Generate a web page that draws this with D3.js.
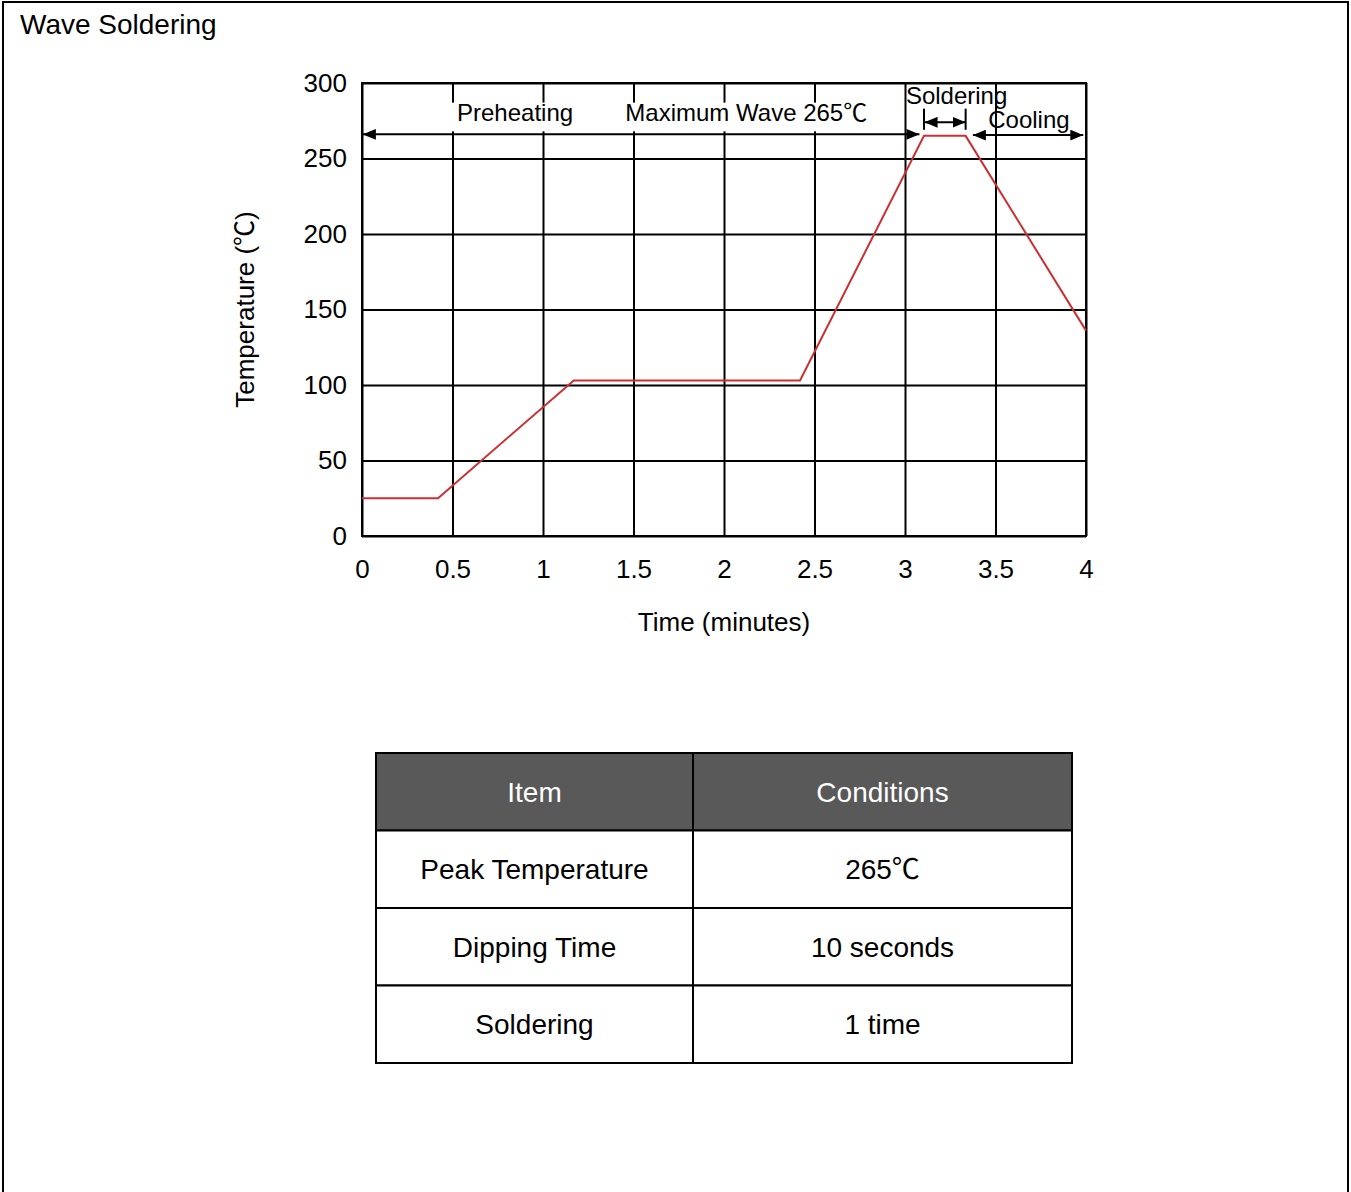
<!DOCTYPE html>
<html>
<head>
<meta charset="utf-8">
<script src="https://cdn.jsdelivr.net/npm/d3@7"></script>
<style>
  body { margin: 0; background: #fff; }
  text { font-family: "Liberation Sans", Arial, "Noto Sans CJK SC", sans-serif; fill: #000; }
</style>
</head>
<body>
<script>
// temperature profile (minutes, deg C)
const profileTime = [0, 0.42, 1.17, 2.42, 3.105, 3.335, 4];
const profileTemp = [25, 25, 103, 103, 265, 265, 136];

const xTicks = [0, 0.5, 1, 1.5, 2, 2.5, 3, 3.5, 4];
const yTicks = [0, 50, 100, 150, 200, 250, 300];

// phase annotations
const phaseNames = ["Preheating", "Maximum Wave 265℃", "Soldering", "Cooling"];
const phaseStart = [0.525, 1.455, 3.005, 3.46];
const phaseTemp = [275, 275, 286, 270];

const tableHeader = ["Item", "Conditions"];
const tableItems = ["Peak Temperature", "Dipping Time", "Soldering"];
const tableConditions = ["265℃", "10 seconds", "1 time"];

const W = 1351, H = 1192;
const svg = d3.select("body").append("svg").attr("width", W).attr("height", H);

// page frame
svg.append("rect")
  .attr("x", 3).attr("y", 2).attr("width", 1345).attr("height", H + 10)
  .attr("fill", "none").attr("stroke", "#000").attr("stroke-width", 2);

svg.append("text").attr("x", 20).attr("y", 34)
  .attr("font-size", 28).text("Wave Soldering");

const x = d3.scaleLinear().domain([0, 4]).range([362, 1086]);
const y = d3.scaleLinear().domain([0, 300]).range([536, 83]);

// grid + axes
const xAxis = svg.append("g")
  .attr("transform", `translate(0,${y(0)})`)
  .call(d3.axisBottom(x).tickValues(xTicks).tickFormat(d3.format("")).tickSize(-(y(0) - y(300))).tickPadding(24));
const yAxis = svg.append("g")
  .attr("transform", `translate(${x(0)},0)`)
  .call(d3.axisLeft(y).tickValues(yTicks).tickSize(-(x(4) - x(0))).tickPadding(15));

[xAxis, yAxis].forEach(g => {
  g.select(".domain").remove();
  g.selectAll(".tick line").attr("stroke", "#000").attr("stroke-width", 2);
  g.selectAll(".tick text").attr("font-size", 26).attr("font-family", "Liberation Sans, Arial, sans-serif").attr("fill", "#000");
});

svg.append("rect")
  .attr("x", x(0)).attr("y", y(300))
  .attr("width", x(4) - x(0)).attr("height", y(0) - y(300))
  .attr("fill", "none").attr("stroke", "#000").attr("stroke-width", 2);

svg.append("text").attr("x", (x(0) + x(4)) / 2).attr("y", 631)
  .attr("text-anchor", "middle").attr("font-size", 26).text("Time (minutes)");

svg.append("text")
  .attr("transform", `translate(254,${(y(0) + y(300)) / 2}) rotate(-90)`)
  .attr("text-anchor", "middle").attr("font-size", 26).text("Temperature (℃)");

// profile line
const line = d3.line().x(d => x(d[0])).y(d => y(d[1]));
svg.append("path")
  .datum(d3.zip(profileTime, profileTemp))
  .attr("d", line)
  .attr("fill", "none").attr("stroke", "#cc2f33").attr("stroke-width", 2);

// arrow markers
const defs = svg.append("defs");
defs.append("marker").attr("id", "head")
  .attr("viewBox", "0 0 12 10").attr("refX", 12).attr("refY", 5)
  .attr("markerWidth", 13).attr("markerHeight", 11)
  .attr("markerUnits", "userSpaceOnUse").attr("orient", "auto-start-reverse")
  .append("path").attr("d", "M0,0L12,5L0,10Z").attr("fill", "#000");

function arrow(t0, t1, temp) {
  svg.append("line")
    .attr("x1", x(t0)).attr("x2", x(t1)).attr("y1", y(temp)).attr("y2", y(temp))
    .attr("stroke", "#000").attr("stroke-width", 2)
    .attr("marker-start", "url(#head)").attr("marker-end", "url(#head)");
}

// white boxes behind first two labels
const labels = svg.append("g");
phaseNames.forEach((name, i) => {
  const t = labels.append("text")
    .attr("x", x(phaseStart[i])).attr("y", y(phaseTemp[i]))
    .attr("font-size", 24).text(name);
  if (i < 2) {
    const b = t.node().getBBox();
    labels.insert("rect", "text")
      .attr("x", b.x - 6).attr("y", y(287)).attr("width", b.width + 12).attr("height", y(268) - y(287))
      .attr("fill", "#fff");
  }
});

arrow(0.005, 3.08, 266);
arrow(3.108, 3.335, 274);
arrow(3.375, 3.985, 265.5);
[profileTime[4], profileTime[5]].forEach(t => {
  svg.append("line")
    .attr("x1", x(t)).attr("x2", x(t)).attr("y1", y(283)).attr("y2", y(269))
    .attr("stroke", "#000").attr("stroke-width", 2);
});

// conditions table
const colX = [376, 693, 1072];
const rowY = d3.scaleBand().domain(d3.range(4)).range([753, 1063]);
const rows = [tableHeader].concat(d3.zip(tableItems, tableConditions));
const table = svg.append("g");
rows.forEach((r, i) => {
  r.forEach((cell, j) => {
    table.append("rect")
      .attr("x", colX[j]).attr("y", rowY(i))
      .attr("width", colX[j + 1] - colX[j]).attr("height", rowY.bandwidth())
      .attr("fill", i === 0 ? "#595959" : "#fff")
      .attr("stroke", "#000").attr("stroke-width", 2);
    table.append("text")
      .attr("x", (colX[j] + colX[j + 1]) / 2).attr("y", rowY(i) + rowY.bandwidth() / 2)
      .attr("dy", "0.35em").attr("text-anchor", "middle").attr("font-size", 28)
      .style("fill", i === 0 ? "#fff" : "#000")
      .text(cell);
  });
});
</script>
</body>
</html>
